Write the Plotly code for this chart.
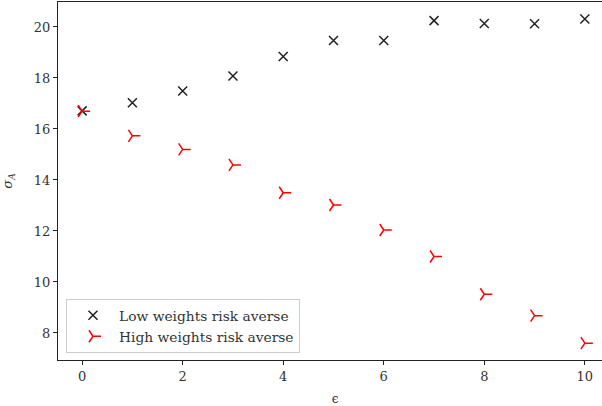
import plotly.graph_objects as go

eps = [0, 1, 2, 3, 4, 5, 6, 7, 8, 9, 10]
low_weights = [16.71, 17.03, 17.49, 18.08, 18.84, 19.47, 19.47, 20.25, 20.14, 20.13, 20.31]
high_weights = [16.70, 15.73, 15.20, 14.59, 13.50, 13.02, 12.04, 11.00, 9.52, 8.68, 7.60]
x_ticks = [0, 2, 4, 6, 8, 10]
y_ticks = [8, 10, 12, 14, 16, 18, 20]

FONT = "DejaVu Serif"
TXT = "#333333"

fig = go.Figure()
fig.add_trace(go.Scatter(
    x=eps, y=low_weights, mode="markers", name="Low weights risk averse",
    marker=dict(symbol="x-thin", size=9, color="#222222",
                line=dict(width=1.5, color="#222222")),
))
fig.add_trace(go.Scatter(
    x=eps, y=high_weights, mode="markers", name="High weights risk averse",
    marker=dict(symbol="y-right", size=10, color="red",
                line=dict(width=1.5, color="red")),
))

# The original axes frame extends slightly past the right edge of the 602 px view.
fig.update_layout(
    width=612, height=406,
    margin=dict(l=58, r=0, t=2, b=46),
    plot_bgcolor="white", paper_bgcolor="white",
    font=dict(family=FONT, size=13, color=TXT),
    showlegend=True,
    legend=dict(
        x=0.0144, y=0.02, xanchor="left", yanchor="bottom",
        bgcolor="white", bordercolor="#cccccc", borderwidth=1,
        font=dict(family=FONT, size=13.8, color=TXT),
        tracegroupgap=0, itemwidth=42,
    ),
    xaxis=dict(
        range=[-0.48, 10.54], tickvals=x_ticks, showgrid=False, zeroline=False,
        showline=True, linecolor="#222222", linewidth=1, mirror=True,
        ticks="outside", ticklen=4, tickcolor="#222222", automargin=False,
        tickfont=dict(family=FONT, size=13, color=TXT),
        title=dict(text="ϵ", standoff=13, font=dict(family=FONT, size=12, color=TXT)),
    ),
    yaxis=dict(
        range=[6.94, 20.98], tickvals=y_ticks, showgrid=False, zeroline=False,
        showline=True, linecolor="#222222", linewidth=1, mirror=True,
        ticks="outside", ticklen=4, tickcolor="#222222", automargin=False,
        tickfont=dict(family=FONT, size=13, color=TXT),
        title=dict(text="<i>σ</i><sub><i>A</i></sub>", standoff=18, font=dict(family=FONT, size=13, color=TXT)),
    ),
)

fig.write_html(
    "out.html", config={"displayModeBar": False},
    post_script="document.body.style.margin='0';document.body.style.overflow='hidden';"
                "document.documentElement.style.overflow='hidden';",
)
